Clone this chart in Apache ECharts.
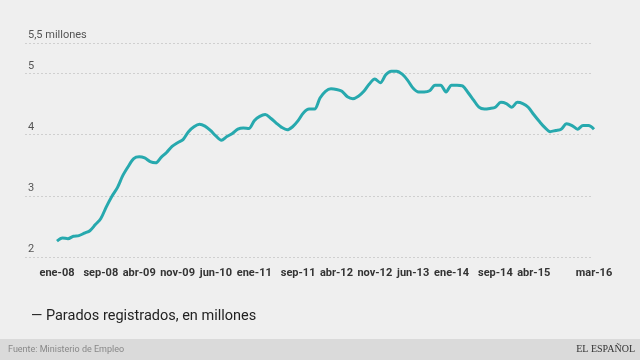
<!DOCTYPE html>
<html>
<head>
<meta charset="utf-8">
<script src="https://cdn.jsdelivr.net/npm/echarts@6/dist/echarts.min.js"></script>
<style>html,body{margin:0;padding:0;background:#efefef;}#c{width:640px;height:360px;}</style>
</head>
<body>
<div id="c"></div>
<script>
var monthNames = ['ene','feb','mar','abr','may','jun','jul','ago','sep','oct','nov','dic'];
var years = ['08','09','10','11','12','13','14','15','16'];
var categories = [];
years.forEach(function (y) {
  monthNames.forEach(function (m) { categories.push(m + '-' + y); });
});
categories = categories.slice(0, 99); // ene-08 .. mar-16

var parados = [
  2.26, 2.31, 2.30, 2.34, 2.35, 2.39, 2.43, 2.53, 2.63, 2.82, 2.99, 3.13,
  3.33, 3.48, 3.61, 3.64, 3.62, 3.56, 3.54, 3.63, 3.71, 3.81, 3.87, 3.92,
  4.05, 4.13, 4.17, 4.14, 4.07, 3.98, 3.91, 3.97, 4.02, 4.09, 4.11, 4.10,
  4.23, 4.30, 4.33, 4.27, 4.19, 4.12, 4.08, 4.13, 4.23, 4.36, 4.42, 4.42,
  4.60, 4.71, 4.75, 4.74, 4.71, 4.62, 4.59, 4.63, 4.71, 4.83, 4.91, 4.85,
  4.98, 5.04, 5.04, 4.99, 4.89, 4.76, 4.70, 4.70, 4.72, 4.81, 4.81, 4.70,
  4.81, 4.81, 4.80, 4.69, 4.57, 4.45, 4.42, 4.43, 4.45, 4.53, 4.51, 4.45,
  4.53, 4.51, 4.45, 4.33, 4.22, 4.12, 4.05, 4.07, 4.09, 4.18, 4.15, 4.09,
  4.15, 4.15, 4.09
];

var shownTicks = ['ene-08','sep-08','abr-09','nov-09','jun-10','ene-11','sep-11',
  'abr-12','nov-12','jun-13','ene-14','sep-14','abr-15','mar-16'];

var yMin = 2, yMax = 5.5, yInterval = 1;

var chart = echarts.init(document.getElementById('c'), null, {renderer: 'canvas'});
chart.setOption({
  backgroundColor: '#efefef',
  animation: false,
  textStyle: {fontFamily: 'Roboto'},
  title: {
    text: '\u2014 Parados registrados, en millones',
    left: 26, top: 304,
    textStyle: {fontSize: 14.5, fontWeight: 'normal', color: '#222', fontFamily: 'Roboto'}
  },
  grid: [
    {left: 25, right: 47, top: 43, bottom: 103},
    {left: 57, right: 46, top: 43, bottom: 103}
  ],
  xAxis: [
    {gridIndex: 0, type: 'value', show: false, min: 0, max: 1},
    {
      gridIndex: 1, type: 'category', data: categories, boundaryGap: false,
      axisLine: {show: false}, axisTick: {show: false},
      axisLabel: {
        interval: function (i, v) { return shownTicks.indexOf(v) >= 0; },
        fontSize: 11, fontWeight: 'bold', color: '#333', margin: 11,
        fontFamily: 'Roboto'
      },
      splitLine: {show: false}
    }
  ],
  yAxis: [
    {
      gridIndex: 0, type: 'value', min: yMin, max: yMax, interval: yInterval,
      axisLine: {show: false}, axisTick: {show: false},
      axisLabel: {
        inside: true, margin: 3, align: 'left', verticalAlign: 'bottom',
        padding: [0, 0, 2, 0], fontSize: 11, color: '#555',
        formatter: function (v) { return v === 5.5 ? '5,5 millones' : String(v); }
      },
      splitLine: {show: true, lineStyle: {color: '#cfcfcf', type: [2, 2], width: 1}}
    },
    {gridIndex: 1, type: 'value', min: yMin, max: yMax, show: false, splitLine: {show: false}}
  ],
  series: [{
    type: 'line', xAxisIndex: 1, yAxisIndex: 1, data: parados,
    showSymbol: false, smooth: 0.3,
    lineStyle: {color: '#27a9ae', width: 3},
    itemStyle: {color: '#27a9ae'}
  }],
  graphic: [
    {type: 'rect', left: 0, top: 339, shape: {width: 640, height: 21}, style: {fill: '#dadada'}, silent: true},
    {type: 'text', left: 8, top: 345, style: {text: 'Fuente: Ministerio de Empleo', fill: '#888', font: '9px Roboto'}},
    {type: 'text', right: 5, top: 344, style: {text: 'EL ESPAÑOL', fill: '#333', font: '10px "Liberation Serif"'}}
  ]
});
</script>
</body>
</html>
